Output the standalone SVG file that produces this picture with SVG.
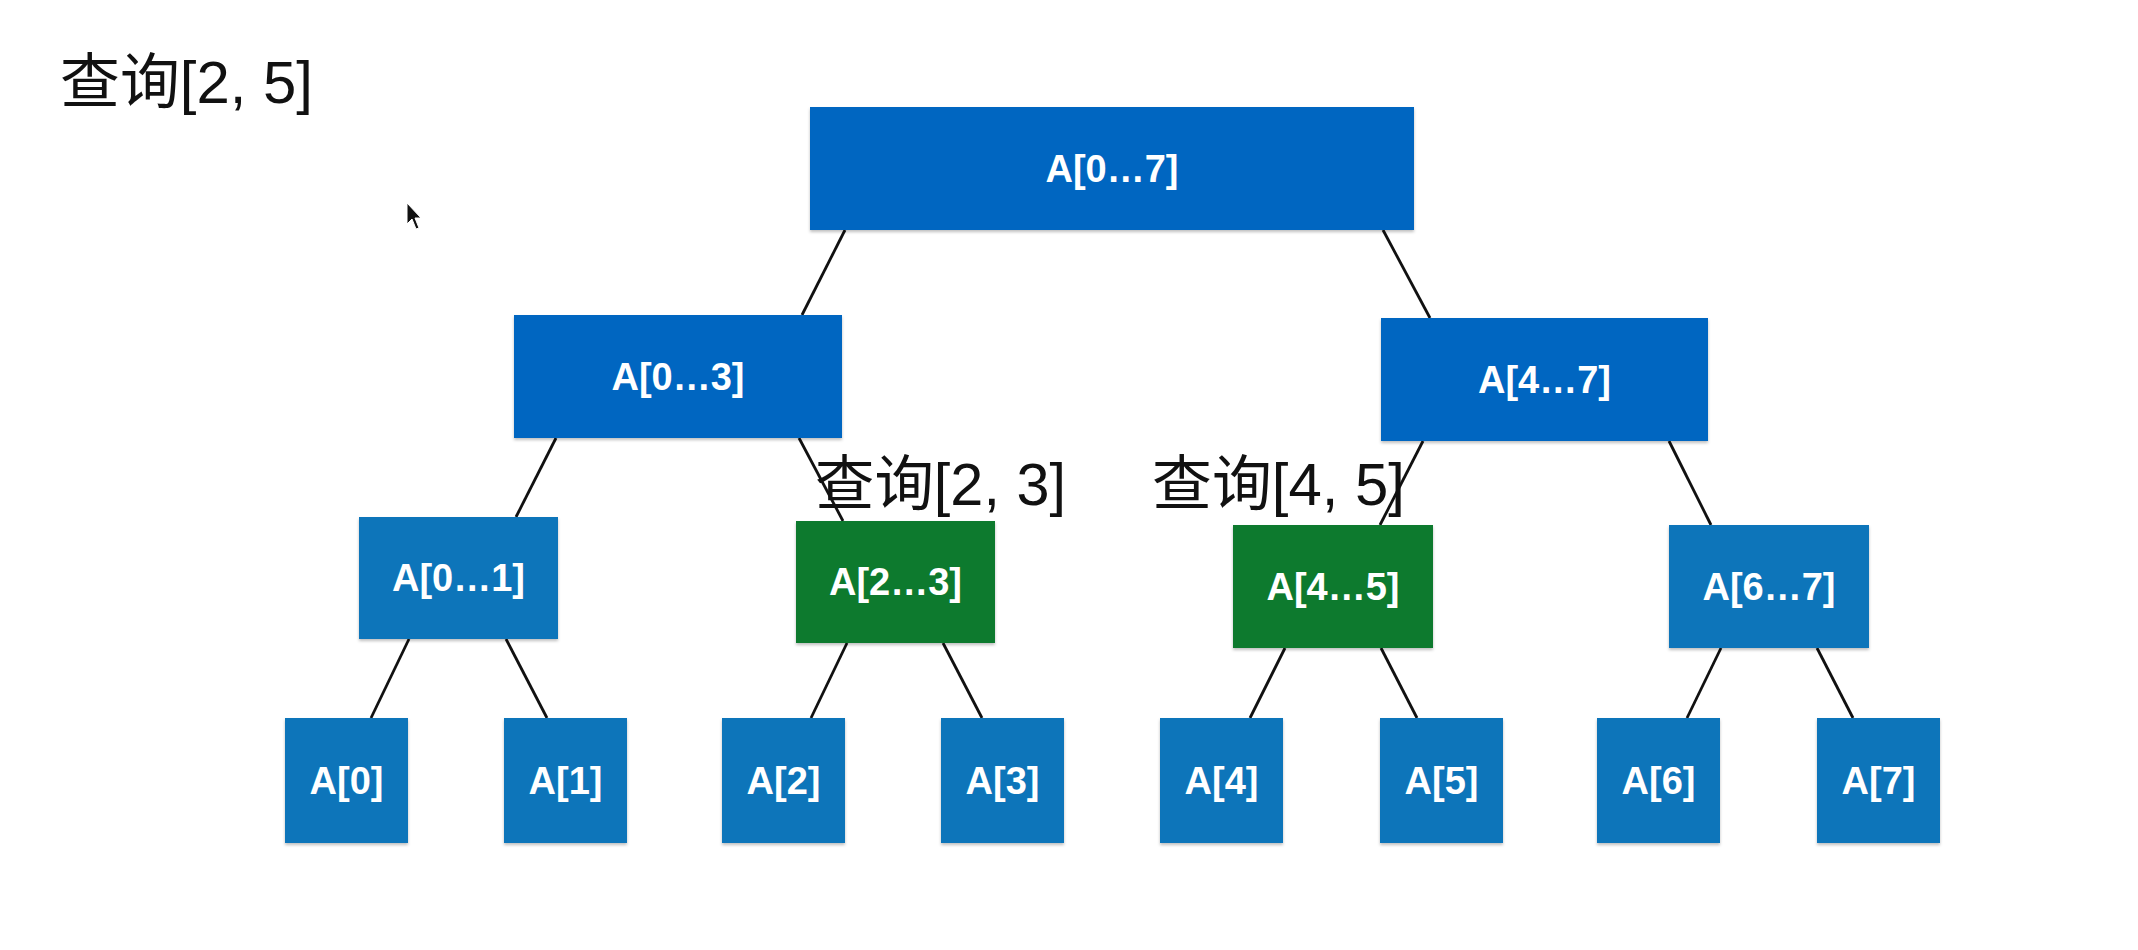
<svg xmlns="http://www.w3.org/2000/svg" width="2138" height="950" viewBox="0 0 2138 950">
<defs>
<style>
.bg{fill:#ffffff}
.dk{fill:#0366c1}
.lt{fill:#0b75ba}
.gr{fill:#077a2d}
.lbl{font-family:"Liberation Sans",Arial,sans-serif;font-weight:bold;font-size:38px;fill:#ffffff;text-anchor:middle}
.q{font-family:"Liberation Sans","Noto Sans CJK SC",sans-serif;font-size:60px;fill:#111111}
.edge{stroke:#111111;stroke-width:2.8;fill:none}
</style>
<filter id="sh" x="-5%" y="-5%" width="110%" height="115%">
<feDropShadow dx="0" dy="2" stdDeviation="1.5" flood-color="#000000" flood-opacity="0.25"/>
</filter>
</defs>
<rect class="bg" x="0" y="0" width="2138" height="950"/>
<g id="connectors">
<line class="edge" x1="845" y1="230" x2="802" y2="315"/>
<line class="edge" x1="1383" y1="230" x2="1430" y2="318"/>
<line class="edge" x1="556" y1="438" x2="516" y2="517"/>
<line class="edge" x1="799" y1="438" x2="843" y2="521"/>
<line class="edge" x1="1423" y1="441" x2="1380" y2="525"/>
<line class="edge" x1="1669" y1="441" x2="1711" y2="525"/>
<line class="edge" x1="409" y1="639" x2="371" y2="718"/>
<line class="edge" x1="506" y1="639" x2="547" y2="718"/>
<line class="edge" x1="847" y1="643" x2="811" y2="718"/>
<line class="edge" x1="943" y1="643" x2="982" y2="718"/>
<line class="edge" x1="1285" y1="648" x2="1250" y2="718"/>
<line class="edge" x1="1381" y1="648" x2="1417" y2="718"/>
<line class="edge" x1="1721" y1="648" x2="1687" y2="718"/>
<line class="edge" x1="1817" y1="648" x2="1853" y2="718"/>
</g>
<g id="n07"><rect class="dk" filter="url(#sh)" x="810" y="107" width="604" height="123"/><text class="lbl" x="1112" y="182">A[0…7]</text></g>
<g id="n03"><rect class="dk" filter="url(#sh)" x="514" y="315" width="328" height="123"/><text class="lbl" x="678" y="390">A[0…3]</text></g>
<g id="n47"><rect class="dk" filter="url(#sh)" x="1381" y="318" width="327" height="123"/><text class="lbl" x="1544.5" y="393">A[4…7]</text></g>
<g id="n01"><rect class="lt" filter="url(#sh)" x="359" y="517" width="199" height="122"/><text class="lbl" x="458.5" y="591">A[0…1]</text></g>
<g id="n23"><rect class="gr" filter="url(#sh)" x="796" y="521" width="199" height="122"/><text class="lbl" x="895.5" y="595">A[2…3]</text></g>
<g id="n45"><rect class="gr" filter="url(#sh)" x="1233" y="525" width="200" height="123"/><text class="lbl" x="1333" y="600">A[4…5]</text></g>
<g id="n67"><rect class="lt" filter="url(#sh)" x="1669" y="525" width="200" height="123"/><text class="lbl" x="1769" y="600">A[6…7]</text></g>
<g id="a0"><rect class="lt" filter="url(#sh)" x="285" y="718" width="123" height="125"/><text class="lbl" x="346.5" y="794">A[0]</text></g>
<g id="a1"><rect class="lt" filter="url(#sh)" x="504" y="718" width="123" height="125"/><text class="lbl" x="565.5" y="794">A[1]</text></g>
<g id="a2"><rect class="lt" filter="url(#sh)" x="722" y="718" width="123" height="125"/><text class="lbl" x="783.5" y="794">A[2]</text></g>
<g id="a3"><rect class="lt" filter="url(#sh)" x="941" y="718" width="123" height="125"/><text class="lbl" x="1002.5" y="794">A[3]</text></g>
<g id="a4"><rect class="lt" filter="url(#sh)" x="1160" y="718" width="123" height="125"/><text class="lbl" x="1221.5" y="794">A[4]</text></g>
<g id="a5"><rect class="lt" filter="url(#sh)" x="1380" y="718" width="123" height="125"/><text class="lbl" x="1441.5" y="794">A[5]</text></g>
<g id="a6"><rect class="lt" filter="url(#sh)" x="1597" y="718" width="123" height="125"/><text class="lbl" x="1658.5" y="794">A[6]</text></g>
<g id="a7"><rect class="lt" filter="url(#sh)" x="1817" y="718" width="123" height="125"/><text class="lbl" x="1878.5" y="794">A[7]</text></g>
<g id="labels">
<text class="q" x="60" y="103" textLength="253" lengthAdjust="spacingAndGlyphs">查询[2, 5]</text>
<text class="q" x="815" y="505" textLength="251" lengthAdjust="spacingAndGlyphs">查询[2, 3]</text>
<text class="q" x="1152" y="505" textLength="253" lengthAdjust="spacingAndGlyphs">查询[4, 5]</text>
</g>
<path id="cursor" d="M407,203 L407,224 L412,219 L416,229 L419,228 L415,218 L421,218 Z" fill="#111111" stroke="#ffffff" stroke-width="1"/>
</svg>
